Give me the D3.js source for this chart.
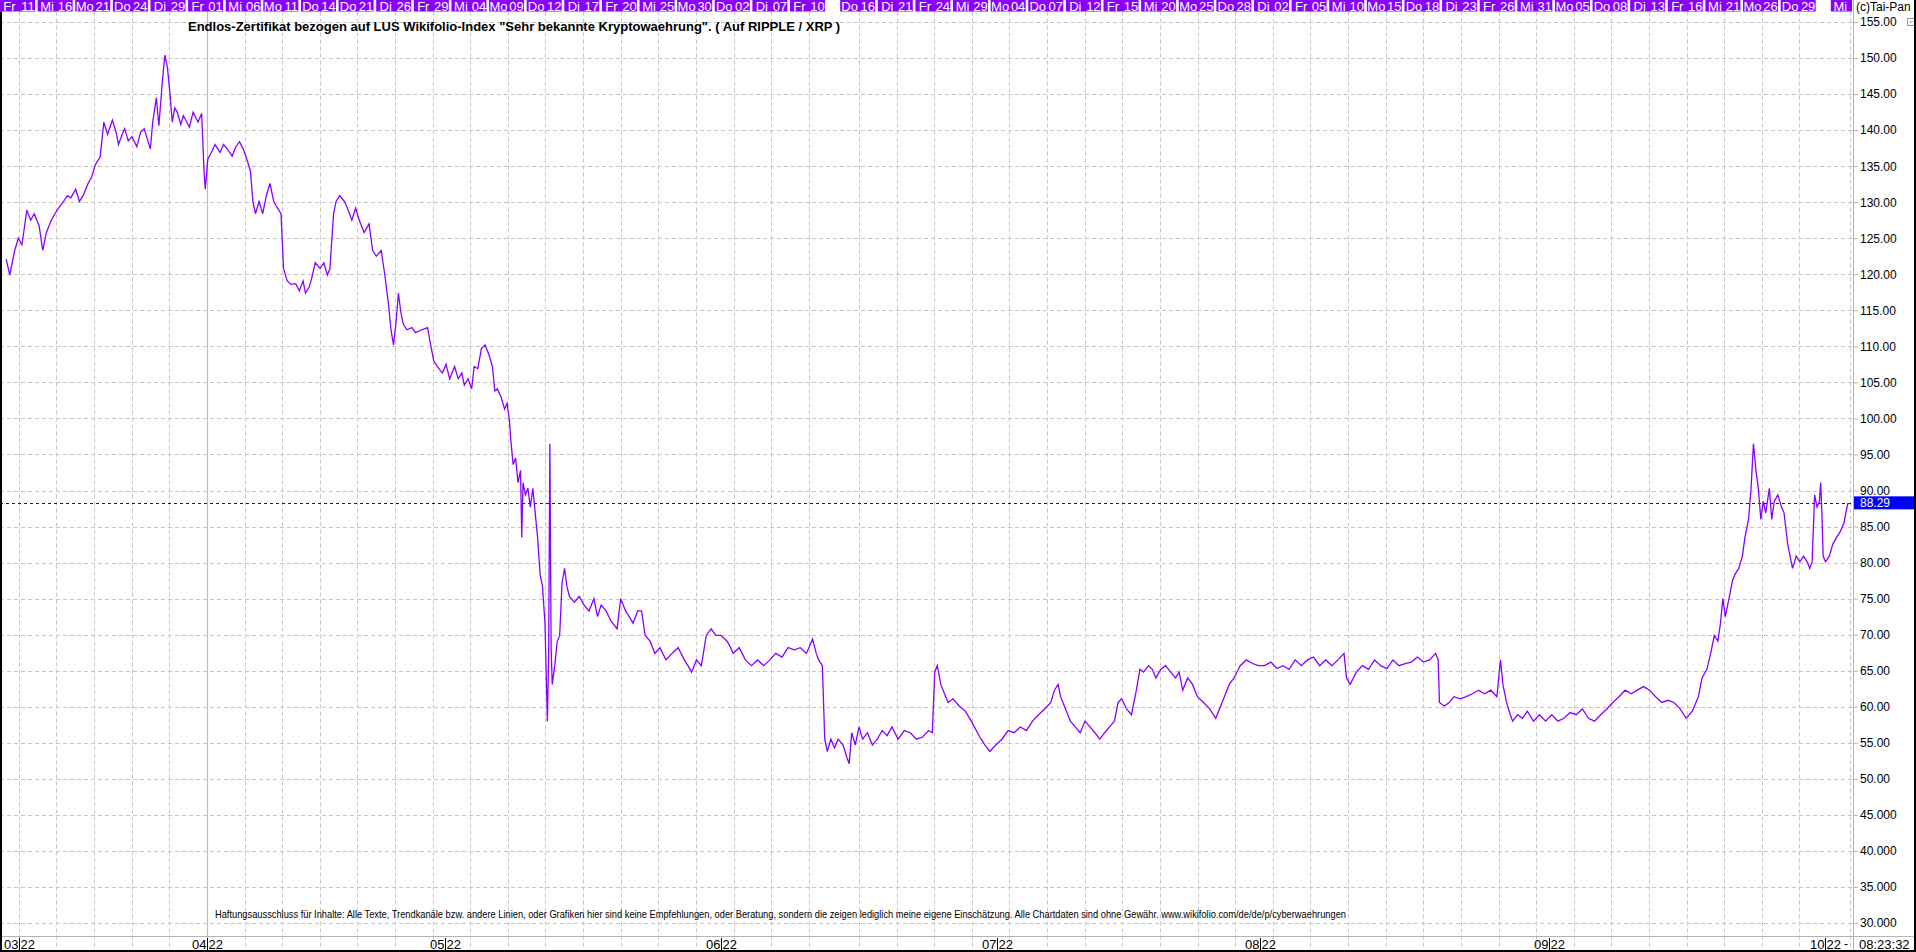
<!DOCTYPE html>
<html><head><meta charset="utf-8">
<script src="https://cdn.jsdelivr.net/npm/d3@7"></script>
<style>body{margin:0;background:#fff;overflow:hidden}svg{display:block}</style>
</head><body>
<svg id="c" width="1916" height="952"></svg>
<script>
const titleText = 'Endlos-Zertifikat bezogen auf LUS Wikifolio-Index "Sehr bekannte Kryptowaehrung". ( Auf RIPPLE / XRP )';
const disclaimerText = 'Haftungsausschluss für Inhalte: Alle Texte, Trendkanäle bzw. andere Linien, oder Grafiken hier sind keine Empfehlungen, oder Beratung, sondern die zeigen lediglich meine eigene Einschätzung. Alle Chartdaten sind ohne Gewähr.  www.wikifolio.com/de/de/p/cyberwaehrungen';
const copyrightText = '(c)Tai-Pan';
const clockText = '08:23:32';

// trading-day index of each top-bar label
const dayLabelIdx = [0,3,6,9,12,15,18,21,24,27,30,33,36,39,42,45,48,51,54,57,60,63,67,70,73,76,79,82,85,88,91,94,97,100,103,106,109,112,115,118,121,124,127,130,133,136,139,142,146];
const dayLabelWd  = ['Fr','Mi','Mo','Do','Di','Fr','Mi','Mo','Do','Do','Di','Fr','Mi','Mo','Do','Di','Fr','Mi','Mo','Do','Di','Fr','Do','Di','Fr','Mi','Mo','Do','Di','Fr','Mi','Mo','Do','Di','Fr','Mi','Mo','Do','Di','Fr','Mi','Mo','Do','Di','Fr','Mi','Mo','Do','Mi'];
const dayLabelNum = ['11','16','21','24','29','01','06','11','14','21','26','29','04','09','12','17','20','25','30','02','07','10','16','21','24','29','04','07','12','15','20','25','28','02','05','10','15','18','23','26','31','05','08','13','16','21','26','29','05'];

const monthStartIdx = [0,15,34,56,78,99,122,144];
const monthLabels = ['03','04','05','06','07','08','09','10'];
const yearLabel = '22';

const yTicks = [155,150,145,140,135,130,125,120,115,110,105,100,95,90,85,80,75,70,65,60,55,50,45,40,35,30];
const yTickLabels = ['155.00','150.00','145.00','140.00','135.00','130.00','125.00','120.00','115.00','110.00','105.00','100.00','95.00','90.00','85.00','80.00','75.00','70.00','65.00','60.00','55.00','50.00','45.000','40.000','35.000','30.000'];

// position in trading days since 11.03.2022, and price
const dayPos = [0.49,0.78,1.17,1.46,1.75,2.14,2.44,2.73,3.12,3.41,3.70,4.09,4.38,4.68,5.07,5.36,5.65,6.04,6.33,6.63,7.02,7.31,7.60,7.99,8.28,8.58,8.96,9.26,9.45,9.74,9.94,10.23,10.52,10.91,11.21,11.50,11.79,11.99,12.18,12.47,12.67,12.96,13.15,13.35,13.54,13.74,13.93,14.13,14.42,14.62,14.81,15.10,15.40,15.79,16.08,16.27,16.37,16.57,16.86,17.15,17.54,17.83,18.12,18.51,18.81,19.10,19.39,19.68,19.97,20.17,20.37,20.66,20.95,21.24,21.53,21.83,22.12,22.41,22.61,22.90,23.19,23.58,23.87,24.17,24.36,24.65,24.85,25.14,25.53,25.82,26.11,26.31,26.60,26.80,27.09,27.48,27.77,28.06,28.36,28.65,29.04,29.43,29.72,30.01,30.40,30.69,30.99,31.18,31.38,31.57,31.77,31.96,32.16,32.45,32.84,33.13,33.62,34.10,34.30,34.59,34.88,35.27,35.57,35.86,36.25,36.54,36.83,37.03,37.32,37.61,37.81,38.10,38.39,38.68,38.98,39.27,39.46,39.66,39.95,40.24,40.44,40.63,40.73,40.92,41.12,41.31,41.51,41.61,41.71,41.90,42.10,42.29,42.49,42.68,42.87,43.07,43.26,43.46,43.65,43.75,43.85,43.95,44.04,44.24,44.43,44.63,44.82,45.02,45.21,45.41,45.80,46.19,46.58,46.97,47.36,47.65,47.94,48.33,48.72,49.21,49.50,49.89,50.18,50.48,50.86,51.16,51.45,51.84,52.23,52.62,53.11,53.59,54.08,54.57,54.86,55.15,55.54,55.93,56.32,56.71,57.10,57.49,57.98,58.27,58.46,58.95,59.44,59.93,60.41,60.90,61.39,61.87,62.36,62.85,63.34,63.82,64.31,64.80,65.09,65.28,65.58,65.77,65.97,66.26,66.55,66.84,67.23,67.53,67.72,67.92,68.21,68.50,68.79,69.18,69.57,69.96,70.35,70.74,71.13,71.62,72.11,72.59,73.08,73.57,74.05,74.35,74.54,74.74,75.03,75.32,75.61,76.00,76.49,76.98,77.46,77.95,78.24,78.54,78.93,79.41,79.90,80.39,80.88,81.36,81.85,82.34,82.82,83.31,83.80,84.09,84.38,84.58,84.97,85.36,85.75,86.14,86.53,86.92,87.31,87.70,88.09,88.48,88.87,89.16,89.45,89.84,90.23,90.62,90.91,91.20,91.59,91.89,92.18,92.57,92.96,93.35,93.74,94.03,94.32,94.71,95.10,95.49,95.98,96.47,96.95,97.25,97.64,98.03,98.41,98.90,99.39,99.88,100.36,100.85,101.34,101.83,102.31,102.80,103.29,103.78,104.26,104.75,105.24,105.72,106.21,106.70,107.18,107.38,107.67,108.16,108.65,109.13,109.62,110.11,110.60,111.08,111.57,112.06,112.54,113.03,113.52,114.00,114.49,114.69,114.79,115.18,115.57,115.95,116.44,116.93,117.42,117.90,118.39,118.88,119.37,119.66,119.85,120.14,120.44,120.63,121.02,121.41,121.80,122.29,122.77,123.26,123.75,124.24,124.72,125.21,125.70,126.19,126.67,127.16,127.65,128.14,128.62,129.11,129.60,130.08,130.57,131.06,131.55,132.03,132.52,133.01,133.50,133.98,134.47,134.96,135.44,135.73,136.12,136.42,136.71,137.00,137.20,137.39,137.59,137.88,138.17,138.37,138.66,138.95,139.15,139.44,139.64,139.83,140.03,140.22,140.42,140.61,140.81,141.10,141.29,141.49,141.78,142.07,142.27,142.56,142.75,142.95,143.24,143.53,143.83,144.12,144.32,144.51,144.71,144.90,145.09,145.19,145.29,145.39,145.58,145.88,146.17,146.46,146.75,147.05,147.20,147.37];
const price = [122.1,119.9,123.3,125.0,124.1,128.9,127.5,128.4,126.7,123.3,125.8,127.5,128.4,129.2,130.1,130.9,130.6,131.8,130.1,130.9,132.6,133.5,135.2,136.3,141.1,139.4,141.4,139.7,138.0,139.4,140.2,138.5,139.1,137.7,139.7,140.2,138.5,137.4,141.1,144.5,140.6,147.0,150.4,148.7,145.3,141.1,143.1,142.5,140.8,142.0,141.4,140.4,142.5,141.1,142.3,134.3,131.8,136.0,136.9,138.0,136.9,138.0,137.4,136.4,137.7,138.4,137.4,136.0,134.3,130.1,128.4,130.1,128.4,130.9,132.6,130.1,129.2,128.4,120.8,119.1,118.6,118.7,117.7,119.1,117.4,118.2,119.4,121.6,120.8,121.6,119.9,120.8,128.4,130.1,130.9,130.1,128.9,127.5,129.2,127.5,125.8,127.0,123.3,122.5,123.3,119.9,115.7,112.3,110.2,113.1,117.4,114.8,113.1,112.3,112.6,111.9,112.3,112.6,110.6,108.0,107.2,106.3,107.5,105.5,107.2,105.5,106.3,104.6,105.5,104.1,107.2,106.9,109.7,110.2,108.9,107.2,103.8,104.1,103.0,101.3,102.1,99.6,97.1,93.6,94.5,91.1,92.8,83.5,91.1,89.4,90.3,87.7,90.3,86.9,83.5,78.4,76.7,71.6,58.0,66.5,96.5,68.2,63.1,65.7,69.0,69.9,77.1,79.2,76.7,75.3,74.5,75.3,74.1,73.3,75.0,72.5,74.1,73.3,71.9,70.8,75.0,73.3,72.5,71.6,73.3,73.3,69.9,69.1,67.4,68.2,66.5,67.4,68.2,66.5,65.7,64.8,66.5,65.7,69.9,70.8,69.9,69.9,69.1,68.2,67.4,68.2,66.5,65.7,66.5,65.7,66.5,67.4,66.9,68.2,67.9,68.2,67.4,69.4,67.4,66.5,65.7,55.5,53.8,55.5,54.3,55.5,54.7,53.0,52.1,56.4,54.7,57.2,55.5,56.4,54.7,55.5,56.7,56.0,57.2,55.5,56.7,56.4,55.5,55.8,56.7,56.4,64.8,65.7,63.1,61.8,60.6,61.1,60.1,59.4,58.0,56.4,55.5,54.7,53.8,54.7,55.5,56.7,56.4,57.2,56.7,58.0,58.9,59.7,60.6,62.3,63.1,61.4,59.7,58.0,57.2,56.4,58.0,57.2,56.4,55.5,56.4,57.2,58.0,60.6,61.1,59.7,58.9,62.3,65.2,64.8,65.7,65.2,64.0,65.2,65.7,64.8,64.0,64.8,62.3,64.0,63.1,61.4,60.6,59.7,58.4,59.7,61.4,63.1,64.0,65.7,66.5,66.0,65.7,65.7,66.2,65.3,65.7,65.2,66.5,65.7,66.5,66.9,65.7,66.5,65.7,66.5,67.4,64.0,63.1,64.8,65.7,65.2,66.5,65.7,65.3,66.5,65.7,66.0,66.2,66.9,66.2,66.5,67.4,66.5,60.6,60.1,60.6,61.4,61.1,61.4,61.8,62.3,61.8,62.3,61.4,66.5,63.1,60.6,58.9,58.0,58.9,58.4,59.4,58.0,58.9,58.0,58.9,58.0,58.4,59.2,58.9,59.7,58.4,58.0,58.9,59.7,60.6,61.4,62.3,61.8,62.3,62.8,62.3,61.4,60.6,60.9,60.6,59.7,58.4,59.4,61.4,64.0,65.2,67.4,69.9,69.1,71.6,75.0,72.5,75.0,77.6,78.4,79.2,80.9,83.5,86.0,90.3,96.5,92.8,90.3,86.0,88.5,86.9,90.3,86.0,88.5,89.4,87.7,86.9,82.6,80.9,79.2,80.9,80.1,80.9,80.1,79.2,80.1,89.4,87.7,88.5,91.1,86.9,80.9,80.1,80.9,82.6,83.5,84.3,85.5,86.9,88.29];
const lastPrice = 88.29;

const W = 1916, H = 952;
const plotRight = 1853, topBarH = 11.5, axisLineY = 936;
const svg = d3.select('#c');
const x = d3.scaleLinear().domain([0, 147.77]).range([0, plotRight]);
const y = d3.scaleLinear().domain([30, 155]).range([923, 22]);
const gridColor = '#c6c6c6';
const sans = 'Arial, "Liberation Sans", sans-serif';
const narrow = '"Liberation Sans Narrow", "Arial Narrow", sans-serif';

svg.append('rect').attr('width', W).attr('height', H).attr('fill', '#fff');

// horizontal grid
svg.append('g').selectAll('line').data(yTicks).join('line')
  .attr('x1', 0).attr('x2', plotRight)
  .attr('y1', d => Math.round(y(d)) + 0.5).attr('y2', d => Math.round(y(d)) + 0.5)
  .attr('stroke', gridColor).attr('stroke-dasharray', '4,3');

// vertical grid (centre of every 3-day label cell)
svg.append('g').selectAll('line').data(dayLabelIdx).join('line')
  .attr('x1', d => Math.round(x(d + 1.5)) + 0.5).attr('x2', d => Math.round(x(d + 1.5)) + 0.5)
  .attr('y1', topBarH).attr('y2', H)
  .attr('stroke', gridColor).attr('stroke-dasharray', '4,3');

// quarter separator (April)
svg.append('line')
  .attr('x1', Math.round(x(monthStartIdx[1] + 1.5)) + 0.5).attr('x2', Math.round(x(monthStartIdx[1] + 1.5)) + 0.5)
  .attr('y1', topBarH).attr('y2', axisLineY)
  .attr('stroke', '#bdbdbd').attr('stroke-width', 1.2);

// axis frame lines
svg.append('line').attr('x1', 0).attr('x2', W).attr('y1', axisLineY + 0.5).attr('y2', axisLineY + 0.5).attr('stroke', '#b4b4b4');
svg.append('line').attr('x1', plotRight + 0.5).attr('x2', plotRight + 0.5).attr('y1', 0).attr('y2', H).attr('stroke', '#b4b4b4');

// top bar of day labels
const clip = svg.append('clipPath').attr('id', 'plotclip');
clip.append('rect').attr('x', 0).attr('y', 0).attr('width', plotRight - 1).attr('height', H);
const topBar = svg.append('g').attr('clip-path', 'url(#plotclip)');
const cells = topBar.selectAll('g').data(dayLabelIdx).join('g');
cells.append('rect')
  .attr('x', d => x(d)).attr('y', 0)
  .attr('width', d => x(d + 3) - x(d) - 2.6).attr('height', topBarH)
  .attr('fill', '#8a00ff');
cells.append('text')
  .attr('x', d => x(d) + 9.5).attr('y', 10.5).attr('text-anchor', 'middle')
  .attr('font-family', sans).attr('font-size', 13).attr('fill', '#fff')
  .text((d, i) => dayLabelWd[i]);
cells.filter(d => x(d + 3) < plotRight).append('text')
  .attr('x', d => x(d + 3) - 2.9).attr('y', 10.5).attr('text-anchor', 'end')
  .attr('font-family', sans).attr('font-size', 13).attr('fill', '#fff')
  .text(d => dayLabelNum[dayLabelIdx.indexOf(d)]);

// title
svg.append('text').attr('x', 188).attr('y', 31)
  .attr('font-family', sans).attr('font-size', 13).attr('font-weight', 'bold')
  .attr('fill', '#000').text(titleText);

// disclaimer
svg.append('text').attr('x', 215).attr('y', 918)
  .attr('font-family', narrow).attr('font-size', 10.5)
  .attr('textLength', 1131).attr('lengthAdjust', 'spacingAndGlyphs')
  .attr('fill', '#000').text(disclaimerText);

// last price dashed line
svg.append('line').attr('x1', 0).attr('x2', plotRight)
  .attr('y1', Math.round(y(lastPrice)) + 0.5).attr('y2', Math.round(y(lastPrice)) + 0.5)
  .attr('stroke', '#0000ff').attr('stroke-dasharray', '3,3');

// price line
const pts = dayPos.map((d, i) => [d, price[i]]);
svg.append('path').datum(pts)
  .attr('d', d3.line().x(d => x(d[0])).y(d => y(d[1])))
  .attr('fill', 'none').attr('stroke', '#8a00ff').attr('stroke-width', 1.3);

// right value axis
const yAxis = d3.axisRight(y).tickValues(yTicks).tickSize(5).tickPadding(2)
  .tickFormat(d => yTickLabels[yTicks.indexOf(d)]);
const ga = svg.append('g').attr('transform', `translate(${plotRight},0)`).call(yAxis);
ga.select('.domain').remove();
ga.selectAll('line').attr('stroke', '#b4b4b4');
ga.selectAll('text').attr('font-family', sans).attr('font-size', 12).attr('fill', '#000');

// last price box
svg.append('rect').attr('x', plotRight + 1).attr('y', y(lastPrice) - 6.5).attr('width', W - plotRight - 3).attr('height', 13).attr('fill', '#0000ff');
svg.append('text').attr('x', plotRight + 7).attr('y', y(lastPrice) + 4.5)
  .attr('font-family', sans).attr('font-size', 12).attr('fill', '#fff')
  .text(d3.format('.2f')(lastPrice));

// copyright and icon
svg.append('text').attr('x', plotRight + 3).attr('y', 11)
  .attr('font-family', sans).attr('font-size', 12).attr('fill', '#000').text(copyrightText);
svg.append('rect').attr('x', 1907.5).attr('y', 18.5).attr('width', 7).attr('height', 7).attr('fill', '#fff').attr('stroke', '#999');
svg.append('line').attr('x1', 1909).attr('x2', 1913).attr('y1', 22).attr('y2', 22).attr('stroke', '#999');

// bottom month axis
const mg = svg.append('g');
monthStartIdx.forEach((m, i) => {
  const mx = Math.round(x(m + 1.5)) + 0.5;
  mg.append('line').attr('x1', mx).attr('x2', mx).attr('y1', 938).attr('y2', 950).attr('stroke', '#000');
  mg.append('text').attr('x', mx - 1).attr('y', 949).attr('text-anchor', 'end')
    .attr('font-family', narrow).attr('font-size', 13).text(monthLabels[i]);
  mg.append('text').attr('x', mx + 1).attr('y', 949)
    .attr('font-family', narrow).attr('font-size', 13).text(yearLabel);
});
mg.append('text').attr('x', plotRight - 5).attr('y', 948).attr('text-anchor', 'end')
  .attr('font-family', sans).attr('font-size', 12).text('-');
mg.append('text').attr('x', plotRight + 6).attr('y', 949)
  .attr('font-family', narrow).attr('font-size', 13).text(clockText);

// black borders
svg.append('rect').attr('x', 0).attr('y', topBarH).attr('width', 2).attr('height', H - topBarH).attr('fill', '#000');
svg.append('rect').attr('x', W - 2).attr('y', 0).attr('width', 2).attr('height', H).attr('fill', '#000');
svg.append('rect').attr('x', 0).attr('y', H - 2).attr('width', W).attr('height', 2).attr('fill', '#000');
</script>
</body></html>
